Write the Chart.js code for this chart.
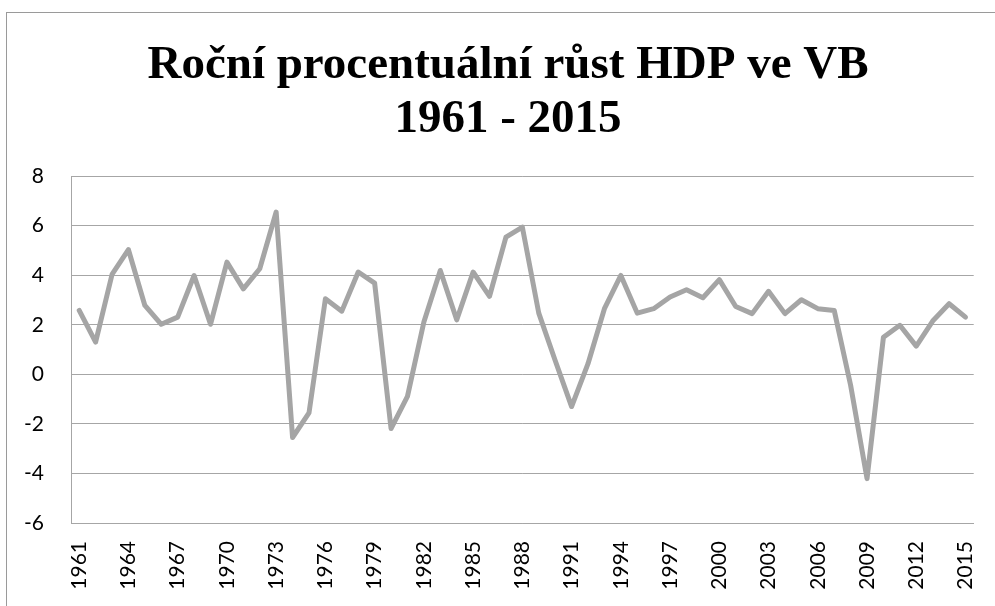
<!DOCTYPE html>
<html>
<head>
<meta charset="utf-8">
<script src="https://cdn.jsdelivr.net/npm/chart.js@4"></script>
<style>
  html, body { margin: 0; padding: 0; background: #fff; overflow: hidden; width: 995px; height: 606px; }
  #wrap { position: absolute; left: 6px; top: 12px; width: 1002px; height: 620px; border: 1px solid #9a9a9a; background: #fff; }
  #c { position: absolute; left: 0; top: 0; }
</style>
</head>
<body>
<div id="wrap"><canvas id="c" width="1002" height="593" style="width:1002px;height:593px"></canvas></div>
<script>
const titleLines = ['Roční procentuální růst HDP ve VB', '1961 - 2015'];
const years = ['1961','1962','1963','1964','1965','1966','1967','1968','1969','1970',
  '1971','1972','1973','1974','1975','1976','1977','1978','1979','1980',
  '1981','1982','1983','1984','1985','1986','1987','1988','1989','1990',
  '1991','1992','1993','1994','1995','1996','1997','1998','1999','2000',
  '2001','2002','2003','2004','2005','2006','2007','2008','2009','2010',
  '2011','2012','2013','2014','2015'];
const growth = [2.58, 1.30, 4.03, 5.03, 2.78, 2.02, 2.31, 3.99, 2.02, 4.53,
  3.45, 4.26, 6.55, -2.55, -1.56, 3.05, 2.55, 4.13, 3.68, -2.19,
  -0.89, 2.11, 4.19, 2.20, 4.13, 3.15, 5.54, 5.94, 2.47, 0.56,
  -1.30, 0.43, 2.65, 3.99, 2.47, 2.65, 3.12, 3.41, 3.09, 3.82,
  2.74, 2.45, 3.35, 2.45, 3.01, 2.65, 2.58, -0.44, -4.21, 1.50,
  1.98, 1.14, 2.15, 2.85, 2.31];
const yMin = -6, yMax = 8, yStep = 2;
const labelEvery = 3;

new Chart(document.getElementById('c'), {
  type: 'line',
  data: {
    labels: years,
    datasets: [{
      data: growth,
      borderColor: '#a5a5a5',
      borderWidth: 5,
      pointRadius: 0,
      tension: 0,
      borderJoinStyle: 'round',
      borderCapStyle: 'round',
      fill: false,
      yAxisID: 'y'
    }]
  },
  options: {
    responsive: false,
    animation: false,
    events: [],
    layout: { padding: { left: 0, right: 0, top: 0, bottom: 0 } },
    plugins: {
      legend: { display: false },
      tooltip: { enabled: false },
      title: {
        display: true,
        text: titleLines,
        color: '#000',
        font: { family: 'Liberation Serif', size: 47, weight: 'bold', lineHeight: 1.15 },
        padding: { top: 26, bottom: 29 }
      }
    },
    scales: {
      x: {
        offset: true,
        grid: { display: false, drawTicks: false },
        border: { display: true, color: '#a6a6a6', width: 1 },
        ticks: {
          autoSkip: false,
          maxRotation: 90,
          minRotation: 90,
          padding: 18,
          color: '#000',
          font: { family: 'Lato', size: 21 },
          callback: function(v, i) { return i % labelEvery === 0 ? this.getLabelForValue(v) : ''; }
        },
        afterFit: s => { s.height = 83; }
      },
      y: {
        min: yMin, max: yMax,
        grid: { color: '#a6a6a6', lineWidth: 1, drawTicks: false },
        border: { display: true, color: '#a6a6a6', width: 1 },
        ticks: {
          stepSize: yStep,
          padding: 27,
          color: '#000',
          font: { family: 'Lato', size: 21 }
        },
        afterFit: s => { s.width = 64; }
      },
      spacer: {
        type: 'linear',
        position: 'right',
        min: yMin, max: yMax,
        grid: { display: false, drawTicks: false },
        border: { display: false },
        ticks: { display: false },
        afterFit: s => { s.width = 32; }
      }
    }
  }
});
</script>
</body>
</html>
